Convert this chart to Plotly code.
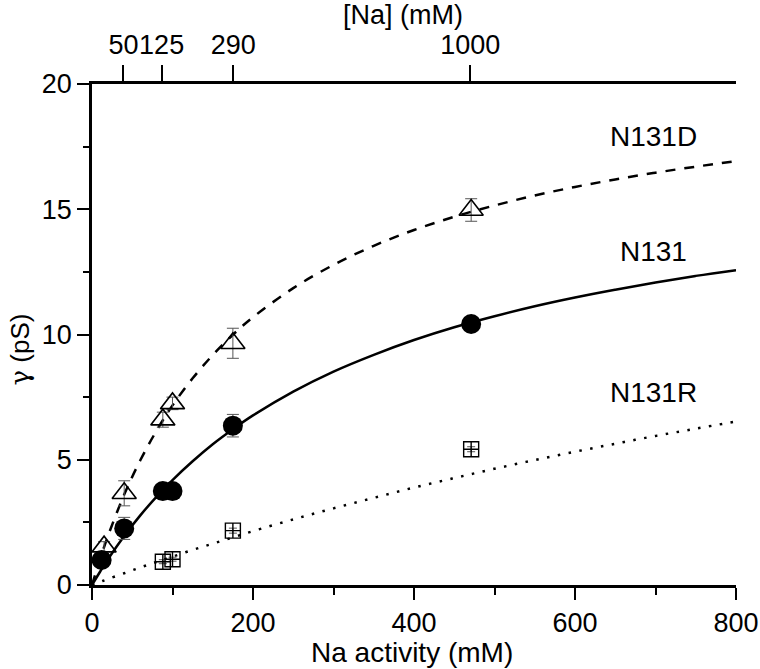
import plotly.graph_objects as go

# ---------------- data ----------------
act_n131 = [12, 40, 88, 100, 175, 471]
g_n131 = [1.0, 2.26, 3.75, 3.75, 6.36, 10.42]
err_n131 = [0.1, 0.44, 0.1, 0.1, 0.45, 0.15]

act_n131d = [15, 40, 88, 100, 175, 471]
g_n131d = [1.53, 3.66, 6.6, 7.25, 9.65, 14.97]
err_n131d = [0.2, 0.5, 0.3, 0.25, 0.6, 0.45]

act_n131r = [88, 100, 175, 471]
g_n131r = [0.93, 1.03, 2.17, 5.42]
err_n131r = [0.08, 0.08, 0.1, 0.1]

# fitted curves
curve_x = [0, 10, 20, 40, 60, 80, 100, 125, 150, 175, 200, 250, 300, 350,
           400, 450, 500, 550, 600, 650, 700, 750, 800]
curve_n131d = [0, 1.03, 1.97, 3.61, 4.98, 6.15, 7.17, 8.25, 9.18, 9.99, 10.69,
               11.85, 12.78, 13.54, 14.17, 14.70, 15.15, 15.55, 15.89, 16.19,
               16.46, 16.70, 16.92]
curve_n131 = [0, 0.53, 1.04, 1.96, 2.78, 3.52, 4.19, 4.94, 5.62, 6.22, 6.77,
              7.72, 8.52, 9.19, 9.78, 10.29, 10.73, 11.13, 11.48, 11.79,
              12.08, 12.34, 12.57]
curve_n131r = [0, 0.12, 0.24, 0.47, 0.70, 0.92, 1.13, 1.40, 1.65, 1.90, 2.15,
               2.62, 3.06, 3.48, 3.89, 4.27, 4.64, 4.99, 5.32, 5.64, 5.95,
               6.24, 6.53]

# top axis: [Na] concentration labels placed at their activity positions
top_tick_pos = [39, 86.5, 175.5, 470]
top_tick_text = ["50", "125", "290", "1000"]

# curve labels
label_text = ["N131D", "N131", "N131R"]
label_x = [697, 697, 697]
label_y = [17.9, 13.3, 7.7]

FONT = "Liberation Sans, Arial, sans-serif"

fig = go.Figure()

fig.add_trace(go.Scatter(x=curve_x, y=curve_n131d, mode="lines",
                         line=dict(color="black", width=2.5, dash="10px,9px", shape="spline"),
                         hoverinfo="skip", showlegend=False))
fig.add_trace(go.Scatter(x=curve_x, y=curve_n131, mode="lines",
                         line=dict(color="black", width=2.5, shape="spline"),
                         hoverinfo="skip", showlegend=False))
fig.add_trace(go.Scatter(x=curve_x, y=curve_n131r, mode="lines",
                         line=dict(color="black", width=2.5, dash="2.5px,8.5px", shape="spline"),
                         hoverinfo="skip", showlegend=False))

fig.add_trace(go.Scatter(x=act_n131d, y=g_n131d, mode="markers",
                         marker=dict(symbol="triangle-up-open", size=21, color="black",
                                     line=dict(width=1.6, color="black")),
                         error_y=dict(type="data", array=err_n131d, color="#555",
                                      thickness=1, width=6),
                         showlegend=False))
fig.add_trace(go.Scatter(x=act_n131, y=g_n131, mode="markers",
                         marker=dict(symbol="circle", size=20, color="black"),
                         error_y=dict(type="data", array=err_n131, color="#555",
                                      thickness=1, width=6),
                         showlegend=False))
fig.add_trace(go.Scatter(x=act_n131r, y=g_n131r, mode="markers",
                         marker=dict(symbol="square-cross-open", size=15, color="black",
                                     line=dict(width=1.4, color="black")),
                         error_y=dict(type="data", array=err_n131r, color="#555",
                                      thickness=1, width=4),
                         showlegend=False))

# invisible trace to carry the top axis
fig.add_trace(go.Scatter(x=top_tick_pos, y=[0] * len(top_tick_pos), xaxis="x2",
                         mode="markers", marker=dict(opacity=0), hoverinfo="skip",
                         showlegend=False))

for t, x, y in zip(label_text, label_x, label_y):
    fig.add_annotation(x=x, y=y, text=t, showarrow=False,
                       xanchor="center", yanchor="middle",
                       font=dict(family=FONT, size=28, color="black"))

fig.add_annotation(xref="paper", yref="paper", x=0.497, y=-0.134, text="Na activity (mM)",
                   xanchor="center", yanchor="middle",
                   showarrow=False, font=dict(family=FONT, size=28, color="black"))
fig.add_annotation(xref="paper", yref="paper", x=-0.112, y=0.47,
                   text="<span style=\"font-family:'DejaVu Serif'\">γ</span> (pS)",
                   xanchor="center", yanchor="middle",
                   textangle=-90, showarrow=False,
                   font=dict(family=FONT, size=26, color="black"))
fig.add_annotation(xref="paper", yref="paper", x=0.483, y=1.137, text="[Na] (mM)",
                   xanchor="center", yanchor="middle",
                   showarrow=False, font=dict(family=FONT, size=27, color="black"))

axis_common = dict(showgrid=False, zeroline=False, showline=True, linecolor="black",
                   linewidth=2.5, ticks="outside", tickcolor="black", tickwidth=2,
                   automargin=False, tickangle=0,
                   tickfont=dict(family=FONT, size=27, color="black"))

fig.update_layout(
    width=760, height=669,
    margin=dict(l=92, r=24, t=84, b=84, autoexpand=False),
    paper_bgcolor="white", plot_bgcolor="white",
    xaxis=dict(range=[0, 800], tickvals=[0, 200, 400, 600, 800], ticklen=12,
               minor=dict(tickvals=[100, 300, 500, 700], ticklen=7, tickwidth=2,
                          ticks="outside", tickcolor="black"),
               **axis_common),
    xaxis2=dict(range=[0, 800], overlaying="x", side="top", anchor="y",
                tickvals=top_tick_pos, ticktext=top_tick_text, ticklen=16,
                **axis_common),
    yaxis=dict(range=[0, 20], tickvals=[0, 5, 10, 15, 20], ticklen=12,
               minor=dict(tickvals=[2.5, 7.5, 12.5, 17.5], ticklen=6, tickwidth=2,
                          ticks="outside", tickcolor="black"),
               **axis_common),
)

fig.write_html("out.html", config={"displayModeBar": False},
               post_script="document.body.style.margin='0';")
